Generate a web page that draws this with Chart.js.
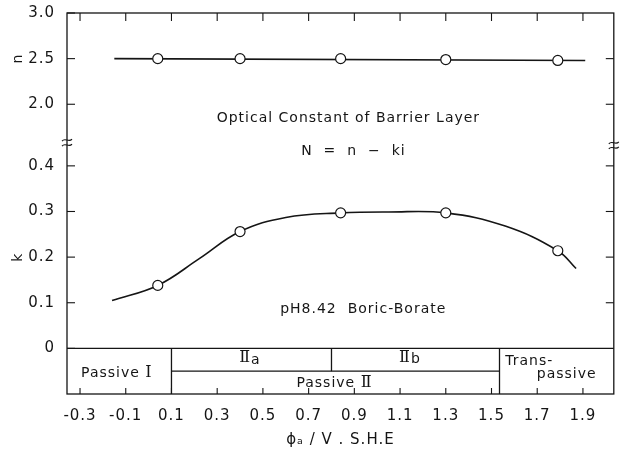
<!DOCTYPE html>
<html>
<head>
<meta charset="utf-8">
<script src="https://cdn.jsdelivr.net/npm/chart.js@4.4.0/dist/chart.umd.min.js"></script>
<style>
  html, body { margin: 0; padding: 0; background: #fff; }
  #wrap { width: 620px; height: 455px; }
</style>
</head>
<body>
<div id="wrap"><canvas id="chart"></canvas></div>
<script>
// measured points (potential in V vs SHE)
const potentials = [0.04, 0.40, 0.84, 1.30, 1.79];
const nValues = [2.50, 2.50, 2.50, 2.49, 2.48];
const kValues = [0.138, 0.256, 0.297, 0.297, 0.214];

// hand drawn curves through the points
const nCurveX = [-0.15, 1.91];
const nCurveY = [2.50, 2.48];
const kCurveX = [-0.16, 0.04, 0.22, 0.40, 0.60, 0.84, 1.05, 1.30, 1.56, 1.79, 1.87];
const kCurveY = [0.105, 0.138, 0.196, 0.256, 0.287, 0.297, 0.299, 0.297, 0.268, 0.214, 0.175];

const xTicks = [-0.3, -0.1, 0.1, 0.3, 0.5, 0.7, 0.9, 1.1, 1.3, 1.5, 1.7, 1.9];
const kTicks = [0, 0.1, 0.2, 0.3, 0.4];
const nTicks = [2.0, 2.5, 3.0];

// passivity regions: Passive I | IIa | IIb | Transpassive
const regionEdges = [0.1, 0.8, 1.535];

// the y axis is broken: k below, n above
const nToAxis = n => 0.535 + (n - 2) * 0.2;
const yTickVals = kTicks.concat(nTicks.map(nToAxis));
const yTickLabels = kTicks.map(v => v === 0 ? '0' : v.toFixed(1)).concat(nTicks.map(v => v.toFixed(1)));

const pts = (xs, ys, f) => xs.map((x, i) => ({ x: x, y: f ? f(ys[i]) : ys[i] }));

const FONT = 'DejaVu Sans';
const INK = '#151515';

const decor = {
  id: 'decor',
  beforeDraw(chart) {
    chart.ctx.letterSpacing = '1px';
  },
  beforeDatasetsDraw(chart) {
    const { ctx, chartArea: a, scales: { x, y } } = chart;
    const px = v => x.getPixelForValue(v);
    const py = v => y.getPixelForValue(v);
    const seg = (x1, y1, x2, y2) => { ctx.beginPath(); ctx.moveTo(x1, y1); ctx.lineTo(x2, y2); ctx.stroke(); };
    ctx.save();
    ctx.strokeStyle = INK;
    ctx.lineWidth = 1.3;
    ctx.strokeRect(a.left, a.top, a.width, a.height);
    // zero line and region box
    seg(a.left, py(0), a.right, py(0));
    seg(px(regionEdges[0]), py(0), px(regionEdges[0]), a.bottom);
    seg(px(regionEdges[1]), py(0), px(regionEdges[1]), py(-0.05));
    seg(px(regionEdges[2]), py(0), px(regionEdges[2]), a.bottom);
    seg(px(regionEdges[0]), py(-0.05), px(regionEdges[2]), py(-0.05));
    // inward ticks
    ctx.lineWidth = 1.1;
    xTicks.forEach(v => {
      seg(px(v), a.top, px(v), a.top + 8);
      seg(px(v), a.bottom, px(v), a.bottom - 6);
    });
    yTickVals.forEach((v, i) => {
      seg(a.left, py(v), a.left + 8, py(v));
      if (v !== 0 && i !== yTickVals.length - 1) seg(a.right, py(v), a.right - 8, py(v));
    });
    // axis break marks
    const brk = (cx, cy) => {
      [-2.5, 2.5].forEach(o => {
        ctx.beginPath();
        ctx.moveTo(cx - 5, cy + o + 1);
        ctx.bezierCurveTo(cx - 2, cy + o - 3, cx + 2, cy + o + 3, cx + 5, cy + o - 1);
        ctx.stroke();
      });
    };
    brk(a.left, py(0.451));
    brk(a.right, py(0.445));
    ctx.restore();
  },
  afterDraw(chart) {
    const { ctx, scales: { x, y } } = chart;
    const px = v => x.getPixelForValue(v);
    const py = v => y.getPixelForValue(v);
    const f = (s, fam) => s + 'px "' + (fam || FONT) + '"';
    ctx.save();
    ctx.fillStyle = INK;
    ctx.letterSpacing = '1px';
    ctx.textBaseline = 'middle';
    ctx.textAlign = 'center';
    ctx.font = f(14);
    ctx.fillText('Optical Constant of Barrier Layer', px(0.874), py(0.505));
    ctx.fillText('N  =  n  \u2212  ki', px(0.896), py(0.431));
    ctx.fillText('pH8.42  Boric-Borate', px(0.939), py(0.085));
    ctx.textAlign = 'left';
    ctx.fillText('Trans-', px(1.56), py(-0.028));
    ctx.textAlign = 'right';
    ctx.fillText('passive', px(1.96), py(-0.057));
    ctx.textAlign = 'center';
    // region labels with roman numerals
    const label = (parts, cx, cy) => {
      let w = 0;
      parts.forEach(p => { ctx.font = f(p[1], p[3]); p.w = ctx.measureText(p[0]).width; w += p.w; });
      let x0 = cx - w / 2;
      ctx.textAlign = 'left';
      parts.forEach(p => {
        ctx.font = f(p[1], p[3]);
        ctx.fillText(p[0], x0, cy + (p[2] || 0));
        x0 += p.w;
      });
      ctx.textAlign = 'center';
    };
    const SERIF = 'DejaVu Serif';
    label([['Passive ', 14], ['\u2160', 16, -1, SERIF]], px(-0.139), py(-0.055));
    label([['Passive ', 14], ['\u2161', 16, -1, SERIF]], px(0.813), py(-0.077));
    label([['\u2161', 16, -1, SERIF], ['a', 14, 1]], px(0.443), py(-0.024));
    label([['\u2161', 16, -1, SERIF], ['b', 14, 1]], px(1.143), py(-0.022));
    // y axis names
    ctx.font = f(14);
    [['n', nToAxis(2.5)], ['k', 0.2]].forEach(([t, v]) => {
      ctx.save();
      ctx.translate(18, py(v));
      ctx.rotate(-Math.PI / 2);
      ctx.fillText(t, 0, 0);
      ctx.restore();
    });
    ctx.restore();
    ctx.letterSpacing = '0px';
  }
};

const curveStyle = { showLine: true, pointRadius: 0, borderColor: INK, borderWidth: 1.6, order: 2 };
const markStyle = { showLine: false, pointRadius: 5, pointBackgroundColor: '#fff', pointBorderColor: INK, pointBorderWidth: 1.2, order: 1 };

new Chart(document.getElementById('chart'), {
  type: 'scatter',
  data: {
    datasets: [
      Object.assign({ label: 'n curve', data: pts(nCurveX, nCurveY, nToAxis) }, curveStyle),
      Object.assign({ label: 'n', data: pts(potentials, nValues, nToAxis) }, markStyle),
      Object.assign({ label: 'k curve', data: pts(kCurveX, kCurveY), tension: 0.4 }, curveStyle),
      Object.assign({ label: 'k', data: pts(potentials, kValues) }, markStyle)
    ]
  },
  options: {
    responsive: true,
    maintainAspectRatio: false,
    animation: false,
    layout: { padding: { top: 13, right: 3, left: 0, bottom: 0 } },
    plugins: { legend: { display: false }, tooltip: { enabled: false } },
    scales: {
      x: {
        type: 'linear',
        min: -0.357,
        max: 2.035,
        afterBuildTicks: s => { s.ticks = xTicks.map(v => ({ value: v })); },
        afterFit: s => { s.height = 61; },
        grid: { display: false },
        border: { display: false },
        ticks: {
          color: INK,
          padding: 5,
          maxRotation: 0,
          font: { family: FONT, size: 15 },
          callback: v => v.toFixed(1)
        },
        title: {
          display: true,
          text: '\u03d5\u2090 / V . S.H.E',
          color: INK,
          font: { family: FONT, size: 15 },
          padding: { top: 0, bottom: 6 }
        }
      },
      y: {
        type: 'linear',
        min: -0.1,
        max: 0.735,
        afterBuildTicks: s => { s.ticks = yTickVals.map(v => ({ value: v })); },
        afterFit: s => { s.width = 67; },
        grid: { display: false },
        border: { display: false },
        ticks: {
          color: INK,
          padding: 4,
          font: { family: FONT, size: 15 },
          callback: (v, i) => yTickLabels[i]
        }
      }
    }
  },
  plugins: [decor]
});
</script>
</body>
</html>
